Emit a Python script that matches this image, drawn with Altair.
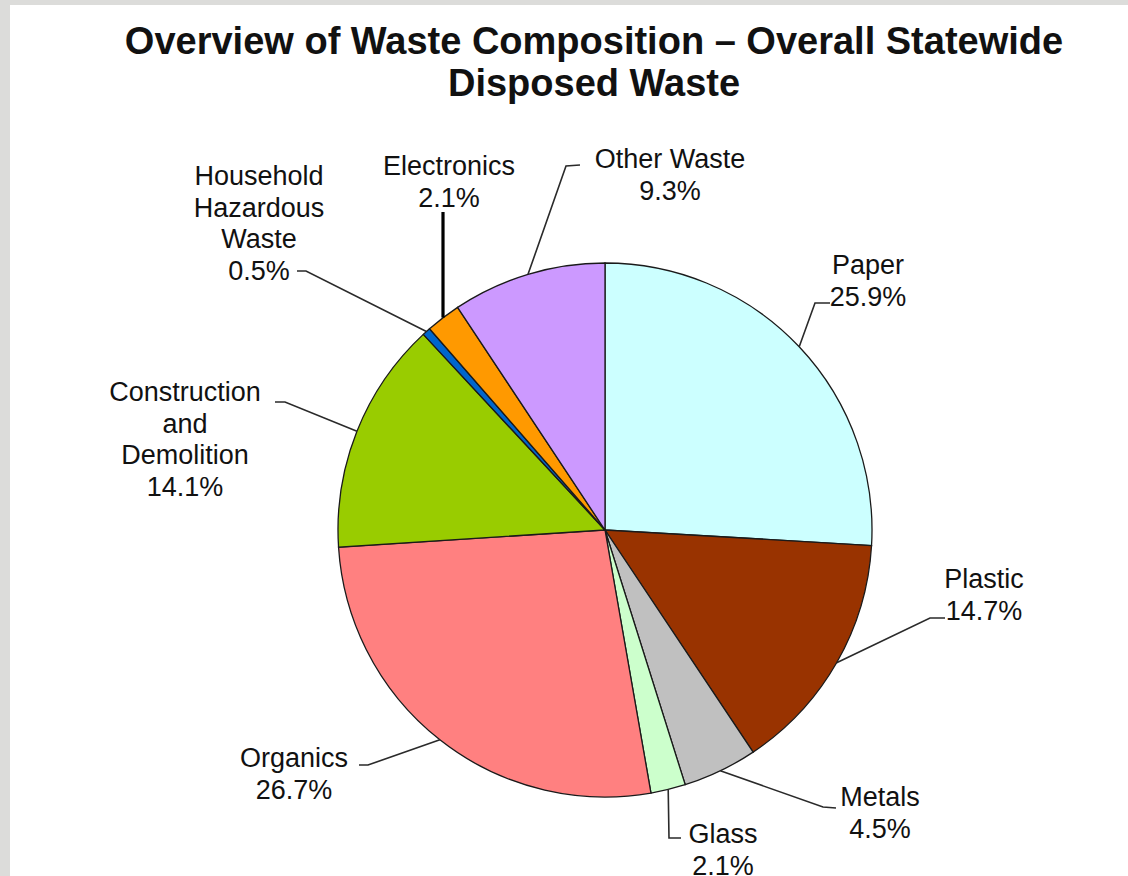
import math
import altair as alt
import pandas as pd

# ---- data ----
categories = ["Paper", "Plastic", "Metals", "Glass", "Organics",
              "Construction and Demolition", "Household Hazardous Waste",
              "Electronics", "Other Waste"]
percents = [25.9, 14.7, 4.5, 2.1, 26.7, 14.1, 0.5, 2.1, 9.3]
label_names = ["Paper", "Plastic", "Metals", "Glass", "Organics",
               "Construction\nand\nDemolition", "Household\nHazardous\nWaste",
               "Electronics", "Other Waste"]
colors = ["#ccffff", "#993300", "#c0c0c0", "#ccffcc", "#ff8080",
          "#99cc00", "#0066cc", "#ff9900", "#cc99ff"]
title_lines = ["Overview of Waste Composition \u2013 Overall Statewide", "Disposed Waste"]

# ---- layout (pixels) ----
W, H = 1128, 876
CX, CY, R = 605, 530, 267
# first-line centre of label, leader elbow, leader end
layout = {
    "Paper": ((868, 266), (815, 303), (830, 303)),
    "Plastic": ((984, 580), (930, 618), (945, 618)),
    "Metals": ((880, 798), (823, 807), (836, 808)),
    "Glass": ((723, 835), (669, 838), (681, 838)),
    "Organics": ((294, 759), (368, 765), (359, 765)),
    "Construction and Demolition": ((185, 393), (285, 402), (275, 402)),
    "Household Hazardous Waste": ((259, 177), (306, 271), (297, 271)),
    "Electronics": ((449, 167), (443, 212), (443, 212)),
    "Other Waste": ((670, 160), (566, 166), (580, 165)),
}

df = pd.DataFrame({"category": categories, "pct": percents,
                   "idx": list(range(len(categories)))})

total = sum(percents)
cum = 0.0
leader_rows, label_rows = [], []
for cat, p, name in zip(categories, percents, label_names):
    mid = (cum + p / 2) / total * 2 * math.pi
    cum += p
    sx = CX + R * math.sin(mid)
    sy = CY - R * math.cos(mid)
    (tx, ty), (ex, ey), (nx, ny) = layout[cat]
    if cat == "Electronics":
        sx = ex
    leader_rows += [
        {"category": cat, "seq": 0, "x": sx, "y": sy},
        {"category": cat, "seq": 1, "x": ex, "y": ey},
        {"category": cat, "seq": 2, "x": nx, "y": ny},
    ]
    label_rows.append({"category": cat, "x": tx, "y": ty,
                       "text": f"{name}\n{p}%"})

leaders = pd.DataFrame(leader_rows)
labels = pd.DataFrame(label_rows)

xs = alt.Scale(domain=[0, W], range=[0, W], nice=False, zero=False)
ys = alt.Scale(domain=[0, H], range=[0, H], nice=False, zero=False)

bg = alt.Chart(pd.DataFrame({"a": [1]})).mark_rect(fill="white").encode(
    x=alt.value(10), x2=alt.value(W), y=alt.value(5), y2=alt.value(H))

pie = alt.Chart(df).mark_arc(outerRadius=R, stroke="#1a1a1a", strokeWidth=1.3).encode(
    theta=alt.Theta("pct:Q", stack=True),
    color=alt.Color("category:N", scale=alt.Scale(domain=categories, range=colors), legend=None),
    order=alt.Order("idx:Q"),
    x=alt.value(CX), y=alt.value(CY),
)

lead_thin = alt.Chart(leaders).transform_filter(
    alt.datum.category != "Electronics").mark_line(color="#2a2a2a", strokeWidth=1.6).encode(
    x=alt.X("x:Q", scale=xs, axis=None),
    y=alt.Y("y:Q", scale=ys, axis=None),
    detail="category:N",
    order="seq:Q",
)
lead_thick = alt.Chart(leaders).transform_filter(
    alt.datum.category == "Electronics").mark_line(color="#000000", strokeWidth=3.2).encode(
    x=alt.X("x:Q", scale=xs, axis=None),
    y=alt.Y("y:Q", scale=ys, axis=None),
    detail="category:N",
    order="seq:Q",
)

text = alt.Chart(labels).mark_text(
    font="Liberation Sans", fontSize=27, color="#111111", lineBreak="\n",
    lineHeight=31.5, align="center", baseline="middle").encode(
    x=alt.X("x:Q", scale=xs, axis=None),
    y=alt.Y("y:Q", scale=ys, axis=None),
    text="text:N",
)

title = alt.Chart(pd.DataFrame({"t": ["\n".join(title_lines)]})).mark_text(
    font="Liberation Sans", fontSize=38, fontWeight="bold", color="#111111",
    lineBreak="\n", lineHeight=42, align="center", baseline="middle").encode(
    x=alt.value(594), y=alt.value(43), text="t:N")

chart = alt.layer(bg, pie, lead_thin, lead_thick, text, title).properties(
    width=W, height=H, padding=0, autosize=alt.AutoSizeParams(type="none"),
    background="#dcdcda",
).configure_view(stroke=None)

chart.save("out.html", embed_options={"renderer": "svg", "actions": False})
